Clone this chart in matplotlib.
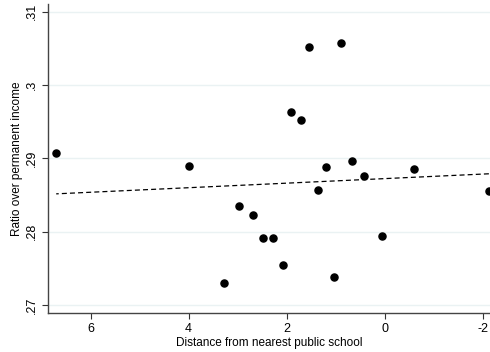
import numpy as np
import matplotlib.pyplot as plt

plt.rcParams["font.family"] = ["Liberation Sans", "DejaVu Sans"]
plt.rcParams["axes.unicode_minus"] = False

# distance from nearest public school and ratio over permanent income
distance = [6.70, 4.00, 1.55, 0.88, 1.90, 1.70, 1.19, 0.66, 0.42, -0.61,
            2.96, 2.69, 2.48, 2.28, 2.08, 1.04, 0.05, -2.13, 1.36, 3.28]
ratio = [0.2908, 0.2889, 0.3052, 0.3058, 0.2964, 0.2952, 0.2888, 0.2897, 0.2876, 0.2886,
         0.2835, 0.2823, 0.2792, 0.2792, 0.2755, 0.2738, 0.2794, 0.2855, 0.2857, 0.2730]

xticks = [6, 4, 2, 0, -2]
yticks = [0.27, 0.28, 0.29, 0.30, 0.31]
yticklabels = [".27", ".28", ".29", ".3", ".31"]

x = np.array(distance)
y = np.array(ratio)
slope, intercept = np.polyfit(x, y, 1)
xfit = np.array([x.min(), x.max()])

fig = plt.figure(figsize=(4.9, 3.52), dpi=100)
ax = fig.add_axes([0.098, 0.111, 0.902, 0.878])

for t in yticks:
    ax.axhline(t, color="#eaf2f3", lw=1.0, zorder=0)

ax.scatter(x, y, s=26, color="black", zorder=3, clip_on=True)
ax.plot(xfit, intercept + slope * xfit, color="black", lw=0.9,
        linestyle=(0, (4, 2.5)), zorder=2)

ax.set_xlim(6.867, -2.153)
ax.set_ylim(0.26891, 0.31109)
ax.set_xticks(xticks)
ax.set_yticks(yticks)
ax.set_yticklabels(yticklabels, rotation=90, va="center")
ax.tick_params(axis="both", labelsize=9, length=4, width=0.8, color="#333333")

for side in ["top", "right"]:
    ax.spines[side].set_visible(False)
for side in ["left", "bottom"]:
    ax.spines[side].set_color("#444444")
    ax.spines[side].set_linewidth(1.0)

ax.set_xlabel("Distance from nearest public school", fontsize=8.5, labelpad=1)
ax.set_ylabel("Ratio over permanent income", fontsize=8.5, labelpad=2)

fig.savefig("out.png", dpi=100)
